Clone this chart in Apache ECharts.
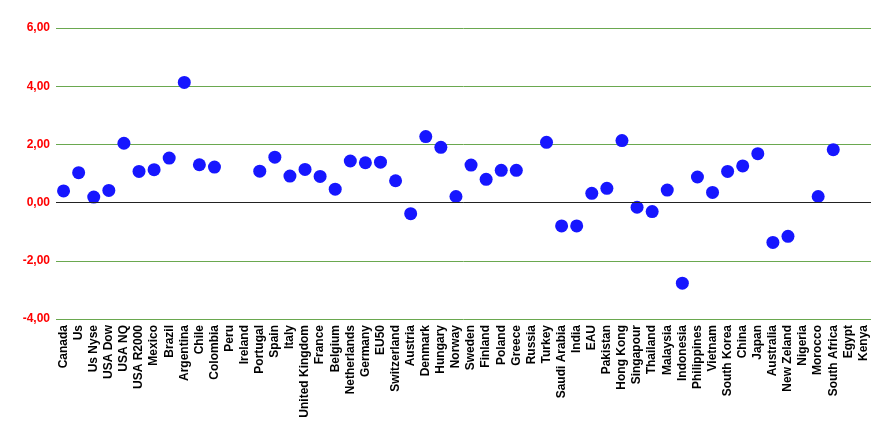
<!DOCTYPE html>
<html><head><meta charset="utf-8">
<script src="https://cdn.jsdelivr.net/npm/echarts@6/dist/echarts.min.js"></script>
<style>html,body{margin:0;padding:0;background:#fff}#c{width:893px;height:436px}</style>
</head><body><div id="c"></div>
<script>
const categories = ["Canada","Us","Us Nyse","USA Dow","USA NQ","USA R2000","Mexico","Brazil","Argentina","Chile","Colombia","Peru","Ireland","Portugal","Spain","Italy","United Kingdom","France","Belgium","Netherlands","Germany","EU50","Switzerland","Austria","Denmark","Hungary","Norway","Sweden","Finland","Poland","Greece","Russia","Turkey","Saudi Arabia","India","EAU","Pakistan","Hong Kong","Singapour","Thailand","Malaysia","Indonesia","Philippines","Vietnam","South Korea","China","Japan","Australia","New Zeland","Nigeria","Morocco","South Africa","Egypt","Kenya"];
const values = [0.40,1.03,0.19,0.42,2.04,1.07,1.13,1.53,4.13,1.30,1.22,null,null,1.08,1.56,0.91,1.14,0.90,0.46,1.43,1.37,1.39,0.75,-0.38,2.27,1.90,0.21,1.29,0.80,1.11,1.11,null,2.07,-0.80,-0.80,0.32,0.49,2.13,-0.16,-0.31,0.43,-2.77,0.88,0.35,1.07,1.26,1.68,-1.37,-1.16,null,0.21,1.82,null,null];
const yMin = -4, yMax = 6, yStep = 2;

const chart = echarts.init(document.getElementById('c'));
chart.setOption({
  animation: false,
  grid: {left: 56, right: 22, top: 28, bottom: 117},
  xAxis: {
    type: 'category', data: categories, boundaryGap: true,
    axisLine: {show: false}, axisTick: {show: false},
    axisLabel: {interval: 0, rotate: 90, color: '#000', fontWeight: 'bold', fontSize: 12, fontFamily: 'Liberation Sans, Arial', margin: 6}
  },
  yAxis: {
    type: 'value', min: yMin, max: yMax, interval: yStep,
    axisLine: {show: false}, axisTick: {show: false},
    axisLabel: {color: '#ff0000', fontWeight: 'bold', fontSize: 12, fontFamily: 'Liberation Sans, Arial', margin: 6,
      formatter: v => v.toFixed(2).replace('.', ',')},
    splitLine: {lineStyle: {color: '#6aa84f', width: 1}}
  },
  series: [{
    type: 'scatter', data: values, symbolSize: 13,
    itemStyle: {color: '#1616ff', opacity: 1},
    markLine: {silent: true, symbol: 'none', label: {show: false},
      lineStyle: {color: '#222', width: 1, type: 'solid'}, data: [{yAxis: 0}]}
  }]
});
</script></body></html>
